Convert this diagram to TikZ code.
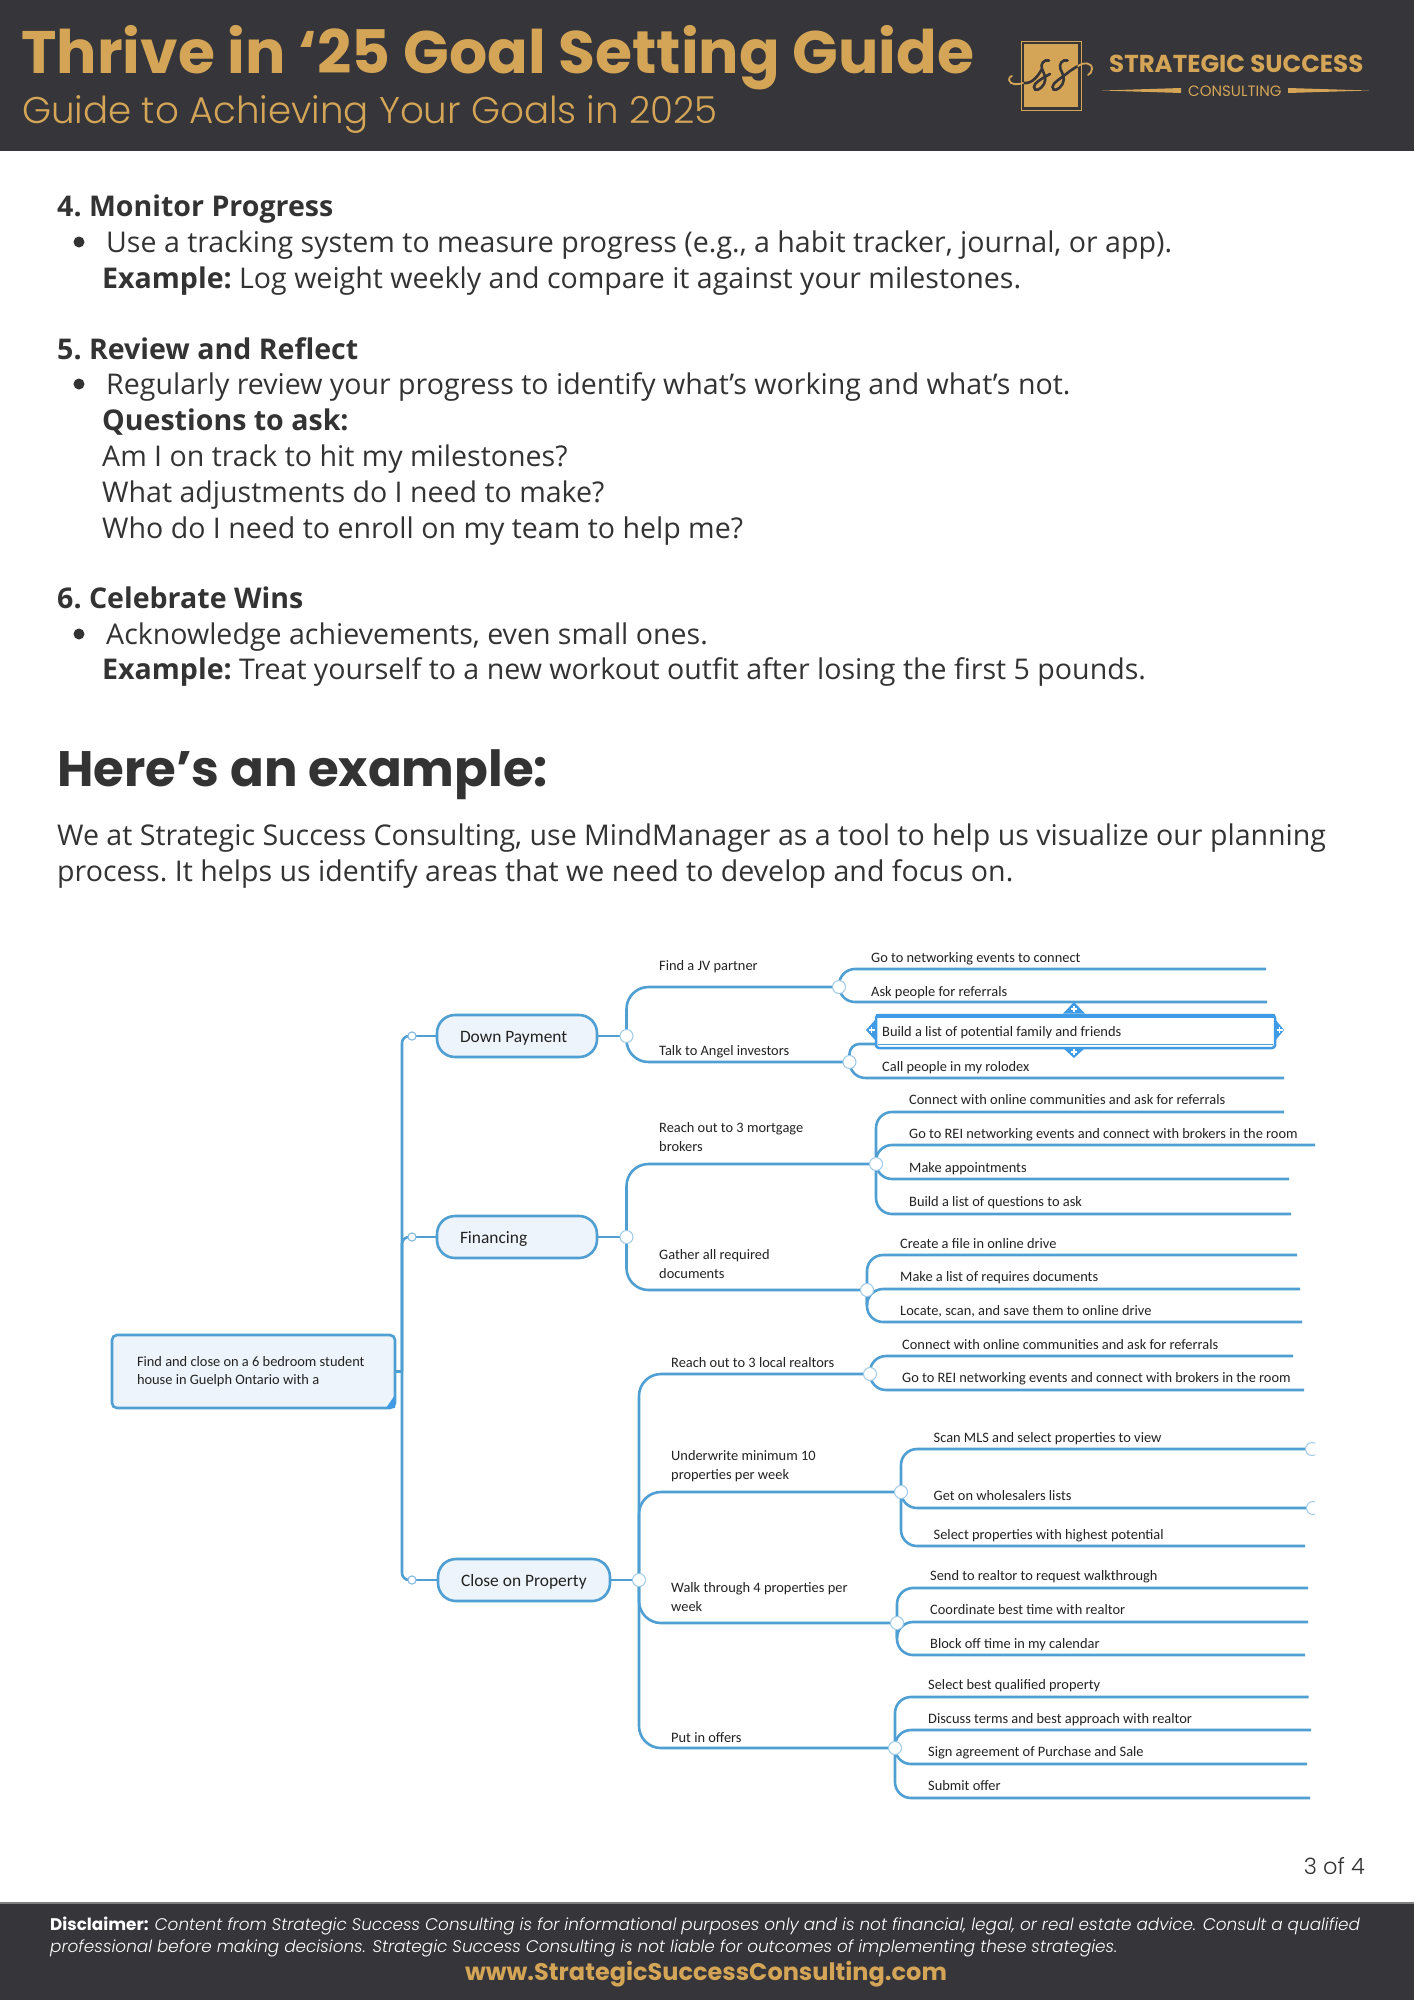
\documentclass[tikz,border=0pt]{standalone}
\usepackage{fontspec}
\setmainfont{Open Sans}
\newfontfamily\headfont{Poppins}
\newfontfamily\headlight{Poppins Light}[ItalicFont={Poppins Light Italic}]
\newfontfamily\mapfont{Carlito}
\definecolor{band}{HTML}{35353A}
\definecolor{gold}{HTML}{D4A556}
\definecolor{ink}{HTML}{333333}
\definecolor{mapline}{HTML}{4F9FD3}
\definecolor{mapfill}{HTML}{EEF4FB}
\definecolor{mapsel}{HTML}{3F9BE6}
\definecolor{mapink}{HTML}{222222}
\tikzset{
  txt/.style={anchor=base west,inner sep=0pt,text=ink,font=\frenchspacing\fontsize{28.55}{34}\selectfont},
  hd/.style={txt,font=\frenchspacing\fontsize{28.55}{34}\selectfont\bfseries},
  link/.style={draw=mapline,line width=2.6pt},
  pill/.style={draw=mapline,line width=2.6pt,fill=mapfill,rounded corners=18pt,minimum height=42pt,inner xsep=23pt,inner ysep=0pt,align=flush left,text=mapink,font=\mapfont\fontsize{17.4}{20}\selectfont},
  leaf/.style={anchor=west,inner sep=0pt,text=mapink,align=left,yshift=-2pt,text height=.72em,text depth=.22em,font=\mapfont\fontsize{14.4}{19}\selectfont},
  sub/.style={anchor=west,inner sep=0pt,text=mapink,align=left,yshift=-1pt,font=\mapfont\fontsize{14.4}{19}\selectfont},
  junc/.style={circle,draw=mapline!55,fill=white,line width=1pt,minimum size=13pt,inner sep=0pt},
  minij/.style={circle,draw=mapline!70,fill=white,line width=1pt,minimum size=8pt,inner sep=0pt},
  handle/.style={fill=mapsel,draw=none},
  hplus/.style={draw=white,line width=1.3pt},
  pt0/.style={minimum size=0pt,inner sep=0pt},
}
\newcommand\pilltxt[1]{\rlap{\raisebox{-6pt}[0pt][0pt]{#1}}}
\newcommand\roottxt[1]{\raisebox{-2pt}{#1}}
% #1 node name, #2 junction, #3 text x, #4 text y, #5 line y, #6 line end x, #7 text
\newcommand\leafline[7]{%
  \node[leaf] (#1) at (#3,#4) {#7};
  \coordinate (#1e) at (#6,#5);
  \draw[link,rounded corners=16pt] (#2.center) |- (#1e);
}
% #1 name, #2 parent junction, #3 text x, #4 text y, #5 line y, #6 junction x, #7 text
\newcommand\branchline[7]{%
  \node[sub] (#1) at (#3,#4) {#7};
  \coordinate (#1j) at (#6,#5);
  \draw[link,rounded corners=22pt] (#2.center) |- (#1j);
}
\begin{document}
\begin{tikzpicture}[x=1pt,y=-1pt]
\useasboundingbox (0,0) rectangle (1414,2000);
\fill[white] (0,0) rectangle (1414,2000);
% header
\fill[band] (0,0) rectangle (1414,150.5);
\node[anchor=base west,inner sep=0pt,text=gold,font=\headfont\fontsize{60}{60}\selectfont\bfseries] (title) at (21,73) {Thrive in ‘25 Goal Setting Guide};
\node[anchor=base west,inner sep=0pt,text=gold,font=\headlight\fontsize{37.2}{37}\selectfont] (subtitle) at (22,123) {Guide to Achieving Your Goals in 2025};
% logo
\draw[gold,line width=1pt] (1021,41) rectangle (1081,110);
\fill[gold] (1024,44) rectangle (1078,107);
\begin{scope}[band,line width=2.6pt,line cap=round]
\draw (1024,83) .. controls (1032,84) and (1038,76) .. (1042,69);
\draw (1049,60.5) .. controls (1044,59) and (1040,64) .. (1042,69) .. controls (1044,74) and (1047,78) .. (1044,84) .. controls (1041,90) and (1034,92) .. (1034,87) .. controls (1034,83) and (1041,79) .. (1050,74);
\draw (1067.5,60.5) .. controls (1062.5,59) and (1058.5,64) .. (1060.5,69) .. controls (1062.5,74) and (1065.5,78) .. (1062.5,84) .. controls (1059.5,90) and (1052.5,92) .. (1052.5,87) .. controls (1052.5,83) and (1060,79) .. (1070,71) .. controls (1073,69) and (1076,67) .. (1078,66);
\end{scope}
\draw[gold,line width=1.8pt,line cap=round] (1023,83) .. controls (1018,85) and (1010,85) .. (1009,80) .. controls (1009,78) and (1010,76) .. (1012,76);
\draw[gold,line width=1.8pt,line cap=round] (1078,66) .. controls (1083,62) and (1092,62) .. (1092,69) .. controls (1092,72) and (1090,74) .. (1088,75);
\node[anchor=base west,inner sep=0pt,text=gold,font=\headfont\fontsize{24.5}{24.5}\selectfont\bfseries] (logoa) at (1109,72) {STRATEGIC SUCCESS};
\node[anchor=base west,inner sep=0pt,text=gold,font=\headfont\fontsize{15}{15}\selectfont] (logob) at (1188,96) {CONSULTING};
\fill[gold] (1102,90.5) -- (1181,88) -- (1181,93) -- cycle;
\fill[gold] (1369,90.5) -- (1288,88) -- (1288,93) -- cycle;
% body
\node[hd] (h4) at (57,216) {4. Monitor Progress};
\fill[ink] (79,242) circle (5.5);
\node[txt] (b4) at (106,252) {Use a tracking system to measure progress (e.g., a habit tracker, journal, or app).};
\node[txt] (e4) at (102,288) {\textbf{Example:} Log weight weekly and compare it against your milestones.};
\node[hd] (h5) at (57,359) {5. Review and Reflect};
\fill[ink] (79,384) circle (5.5);
\node[txt] (b5) at (106,394) {Regularly review your progress to identify what’s working and what’s not.};
\node[hd] (q5) at (102,430) {Questions to ask:};
\node[txt] (q1) at (102,466) {Am I on track to hit my milestones?};
\node[txt] (q2) at (102,502) {What adjustments do I need to make?};
\node[txt] (q3) at (102,538) {Who do I need to enroll on my team to help me?};
\node[hd] (h6) at (57,608) {6. Celebrate Wins};
\fill[ink] (79,634) circle (5.5);
\node[txt] (b6) at (106,644) {Acknowledge achievements, even small ones.};
\node[txt] (e6) at (102,679) {\textbf{Example:} Treat yourself to a new workout outfit after losing the first 5 pounds.};
\node[anchor=base west,inner sep=0pt,text=ink,font=\headfont\fontsize{49.8}{50}\selectfont\bfseries] (ex) at (57,786) {Here’s an example:};
\node[txt] (p1) at (57,845) {We at Strategic Success Consulting, use MindManager as a tool to help us visualize our planning};
\node[txt] (p2) at (57,881) {process. It helps us identify areas that we need to develop and focus on.};
% mind map: main boxes
\node[draw=mapline,line width=2.6pt,fill=mapfill,rounded corners=5pt,minimum width=283pt,minimum height=73pt,inner xsep=25pt,inner ysep=0pt,text width=233pt,align=flush left,text=mapink,font=\mapfont\fontsize{14.4}{18.5}\selectfont] (root) at (253.5,1371.5) {\roottxt{Find and close on a 6 bedroom student}\\\roottxt{house in Guelph Ontario with a}};
\fill[mapsel] (395,1395) -- (395,1408) -- (386,1408) -- cycle;
\node[pill,minimum width=160pt,text width=114pt] (dp) at (517,1036) {\pilltxt{Down Payment}};
\node[pill,minimum width=160pt,text width=114pt] (fin) at (517,1237) {\pilltxt{Financing}};
\node[pill,minimum width=172pt,text width=126pt] (close) at (524,1580) {\pilltxt{Close on Property}};
\coordinate (rj) at (402,1371.5);
\node[minij] (dpl) at (412,1036) {};
\node[minij] (finl) at (412,1237) {};
\node[minij] (closel) at (412,1580) {};
\draw[link] (root.east) -- (rj);
\draw[link,rounded corners=7pt] (rj) |- (dpl.center);
\draw[link,rounded corners=7pt] (rj) |- (finl.center);
\draw[link,rounded corners=7pt] (rj) |- (closel.center);
\draw[link] (dpl.center) -- (dp.west);
\draw[link] (finl.center) -- (fin.west);
\draw[link] (closel.center) -- (close.west);
\node[minij] at (dpl) {};
\node[minij] at (finl) {};
\node[minij] at (closel) {};
% second-level junctions
\coordinate (dpj) at (626.5,1036);
\coordinate (finj) at (626.5,1237);
\coordinate (cloj) at (639,1580);
\draw[link] (dp.east) -- (dpj);
\draw[link] (fin.east) -- (finj);
\draw[link] (close.east) -- (cloj);
\node[pt0] (dpn) at (dpj) {};
\node[pt0] (finn) at (finj) {};
\node[pt0] (clon) at (cloj) {};
\branchline{jv}{dpn}{659}{966}{987}{839}{Find a JV partner}
\branchline{angel}{dpn}{659}{1051}{1062}{849.5}{Talk to Angel investors}
\branchline{mort}{finn}{659}{1136}{1164}{876}{Reach out to 3 mortgage\\brokers}
\branchline{docs}{finn}{659}{1263}{1290}{867}{Gather all required\\documents}
\branchline{rea}{clon}{671}{1362}{1374}{870}{Reach out to 3 local realtors}
\branchline{und}{clon}{671}{1465}{1492}{901}{Underwrite minimum 10\\properties per week}
\branchline{wal}{clon}{671}{1596}{1623}{897}{Walk through 4 properties per\\week}
\branchline{put}{clon}{671}{1737}{1748}{895}{Put in offers}
\foreach \n in {jv,angel,mort,docs,rea,und,wal,put} {\node[pt0] (\n n) at (\n j) {};}
% leaves
\leafline{a1}{jvn}{871}{958}{969}{1266}{Go to networking events to connect}
\leafline{a2}{jvn}{871}{992}{1002}{1267}{Ask people for referrals}
\leafline{b2}{angeln}{882}{1067}{1078}{1284}{Call people in my rolodex}
\coordinate (selc) at (876,1044);
\draw[link,rounded corners=10pt] (angeln.center) |- (selc);
\leafline{c1}{mortn}{909}{1100}{1112}{1284}{Connect with online communities and ask for referrals}
\leafline{c2}{mortn}{909}{1134}{1145}{1315}{Go to REI networking events and connect with brokers in the room}
\leafline{c3}{mortn}{909}{1168}{1179}{1289}{Make appointments}
\leafline{c4}{mortn}{909}{1202}{1214}{1291}{Build a list of questions to ask}
\leafline{d1}{docsn}{900}{1244}{1255}{1297}{Create a file in online drive}
\leafline{d2}{docsn}{900}{1277}{1289}{1300}{Make a list of requires documents}
\leafline{d3}{docsn}{900}{1311}{1322}{1302}{Locate, scan, and save them to online drive}
\leafline{e1}{rean}{902}{1345}{1356}{1293}{Connect with online communities and ask for referrals}
\leafline{e2}{rean}{902}{1378}{1390}{1304}{Go to REI networking events and connect with brokers in the room}
\leafline{f1}{undn}{933.5}{1438}{1449}{1312}{Scan MLS and select properties to view}
\leafline{f2}{undn}{933.5}{1496}{1508}{1313}{Get on wholesalers lists}
\leafline{f3}{undn}{933.5}{1535}{1546}{1305}{Select properties with highest potential}
\leafline{g1}{waln}{930}{1576}{1588}{1308}{Send to realtor to request walkthrough}
\leafline{g2}{waln}{930}{1610}{1622}{1308}{Coordinate best time with realtor}
\leafline{g3}{waln}{930}{1644}{1655}{1305}{Block off time in my calendar}
\leafline{h1}{putn}{928}{1685}{1697}{1308.5}{Select best qualified property}
\leafline{h2}{putn}{928}{1719}{1730}{1311}{Discuss terms and best approach with realtor}
\leafline{h3}{putn}{928}{1752}{1764}{1307}{Sign agreement of Purchase and Sale}
\leafline{h4}{putn}{928}{1786}{1798}{1310}{Submit offer}
% selected topic
\node[leaf] (sel) at (882,1031.5) {Build a list of potential family and friends};
\draw[mapsel,line width=2.5pt,rounded corners=3pt] (876,1015) rectangle (1275,1048);
\fill[mapsel] (876,1013.5) rectangle (1275,1018);
\draw[mapline,line width=1.2pt] (878,1044.5) -- (1273,1044.5);
\fill[handle] (1074,1002) -- (1085,1013.5) -- (1063,1013.5) -- cycle;
\fill[handle] (1074,1058) -- (1085,1048) -- (1063,1048) -- cycle;
\fill[handle] (866,1030) -- (876,1019) -- (876,1041) -- cycle;
\fill[handle] (1284,1030) -- (1275,1019) -- (1275,1041) -- cycle;
\draw[hplus] (1071,1009) -- (1077,1009) (1074,1006) -- (1074,1012);
\draw[hplus] (1071,1052) -- (1077,1052) (1074,1049) -- (1074,1055);
\draw[hplus] (868.5,1030) -- (874.5,1030) (871.5,1027) -- (871.5,1033);
\draw[hplus] (1276.5,1030) -- (1282.5,1030) (1279.5,1027) -- (1279.5,1033);
% junction circles on top
\foreach \n in {dpn,finn,clon,jvn,angeln,mortn,docsn,rean,undn,waln,putn} {\node[junc] at (\n) {};}
% clipped end circles
\begin{scope}
\clip (1290,1430) rectangle (1315,1520);
\node[junc] (f1c) at (f1e) {};
\node[junc] (f2c) at (f2e) {};
\end{scope}
% footer
\node[anchor=base east,inner sep=0pt,text=ink,font=\headlight\fontsize{22.5}{22}\selectfont] (page) at (1365,1874) {3 of 4};
\fill[band] (0,1903) rectangle (1414,2000);
\draw[gray,line width=1.2pt] (0,1903) -- (1414,1903);
\node[anchor=base west,inner sep=0pt,text=white,font=\headlight\fontsize{16.84}{17}\selectfont] (d1x) at (50,1930) {{\headfont\bfseries Disclaimer:} \textit{Content from Strategic Success Consulting is for informational purposes only and is not financial, legal, or real estate advice. Consult a qualified}};
\node[anchor=base west,inner sep=0pt,text=white,font=\headlight\fontsize{16.84}{17}\selectfont] (d2x) at (50,1952) {\textit{professional before making decisions. Strategic Success Consulting is not liable for outcomes of implementing these strategies.}};
\node[inner sep=0pt,text=gold,font=\headfont\fontsize{24}{24}\selectfont\bfseries] (url) at (706,1974) {www.StrategicSuccessConsulting.com};
\end{tikzpicture}
\end{document}
